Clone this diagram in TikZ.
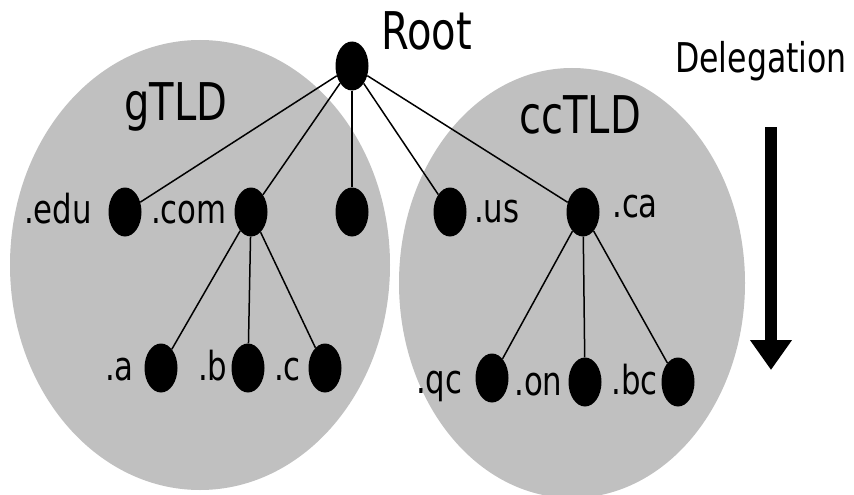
\documentclass[tikz,border=0pt]{standalone}
\usepackage{fontspec}
\setmainfont{DejaVu Sans}[FakeStretch=0.77]
\usetikzlibrary{shapes.geometric,arrows.meta}
\definecolor{zone}{HTML}{C0C0C0}
\tikzset{
  dot/.style={ellipse,fill=black,inner sep=0pt,minimum width=33pt,minimum height=49pt},
  zonebg/.style={fill=zone,draw=none},
  lbl/.style={inner sep=0pt,anchor=base west,font=\fontsize{40}{40}\selectfont},
  big/.style={inner sep=0pt,anchor=base west,font=\fontsize{52}{52}\selectfont},
  link/.style={line width=1.5pt,black},
  deleg/.style={line width=12pt,-{Triangle[width=40pt,length=30pt]}}
}
\begin{document}
\begin{tikzpicture}[x=1pt,y=-1pt]
\useasboundingbox[fill=white] (0,0) rectangle (854,495);
% zones
\fill[zonebg] (200,265) ellipse [x radius=190, y radius=225];
\fill[zonebg] (572,283) ellipse [x radius=173, y radius=215];
% nodes
\node[dot] (root) at (352,66) {};
\node[dot] (edu) at (125,212) {};
\node[dot] (com) at (251,212) {};
\node[dot] (mid) at (352,212) {};
\node[dot] (us) at (450,212) {};
\node[dot] (ca) at (583,212) {};
\node[dot] (a) at (161,368) {};
\node[dot] (b) at (248,368) {};
\node[dot] (c) at (325,368) {};
\node[dot] (qc) at (492,378) {};
\node[dot] (on) at (585,382) {};
\node[dot] (bc) at (678,382) {};
% connectors
\draw[link] (root) -- (edu);
\draw[link] (root) -- (com);
\draw[link] (root) -- (mid);
\draw[link] (root) -- (us);
\draw[link] (root) -- (ca);
\draw[link] (com) -- (a);
\draw[link] (com) -- (b);
\draw[link] (com) -- (c);
\draw[link] (ca) -- (qc);
\draw[link] (ca) -- (on);
\draw[link] (ca) -- (bc);
% labels
\node[big] (troot) at (381,50) {Root};
\node[big] (tg) at (124,120) {gTLD};
\node[big] (tcc) at (519,133) {ccTLD};
\node[inner sep=0pt,anchor=base west,font=\fontsize{41}{41}\selectfont] (tdel) at (675,73) {Delegation};
\node[lbl] (tedu) at (24,223) {.edu};
\node[lbl] (tcom) at (151,223) {.com};
\node[lbl] (tus) at (474,222) {.us};
\node[lbl] (tca) at (612,217) {.ca};
\node[lbl] (ta) at (105,380) {.a};
\node[lbl] (tb) at (198,380) {.b};
\node[lbl] (tc) at (274,380) {.c};
\node[lbl] (tqc) at (416,393) {.qc};
\node[lbl] (ton) at (514,395) {.on};
\node[lbl] (tbc) at (611,394) {.bc};
% delegation arrow
\coordinate (dtop) at (771,127);
\coordinate (dbot) at (771,370);
\draw[deleg] (dtop) -- (dbot);
\end{tikzpicture}
\end{document}
